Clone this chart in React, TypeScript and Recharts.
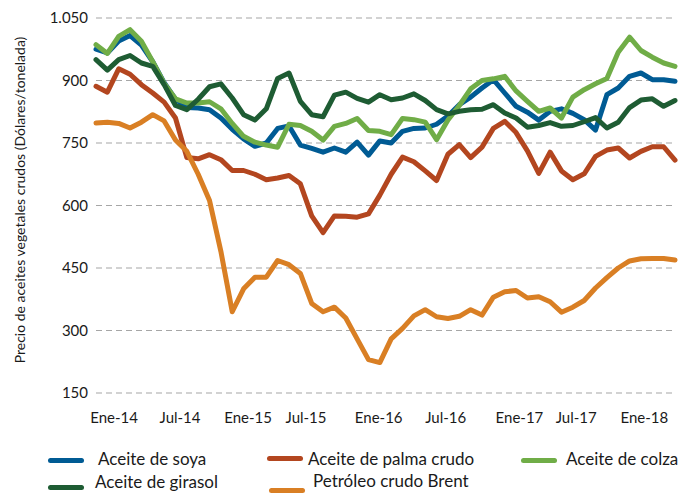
import { LineChart, Line, XAxis, YAxis, CartesianGrid } from 'recharts';

// monthly, Ene-14 .. Abr-18 (52 points), US$/tonelada
const soya = [
  975, 966, 995, 1008, 985, 945, 895, 855, 835, 834, 830, 810, 783, 760, 742, 750, 785, 791, 745, 737, 728, 738, 728, 752, 721, 755,
  750, 778, 785, 786, 795, 815, 842, 860, 882, 902, 870, 838, 824, 805, 826, 832, 821, 806, 781, 866, 882, 910, 918, 902, 902, 898,
];
const palma = [
  886, 872, 928, 915, 890, 870, 848, 810, 715, 712, 722, 710, 684, 684, 675, 662, 666, 672, 652, 575, 535, 575, 574, 572, 580, 625,
  675, 716, 705, 683, 660, 723, 746, 715, 740, 785, 802, 775, 731, 677, 728, 683, 662, 676, 718, 733, 738, 714, 730, 741, 741, 709,
];
const colza = [
  986, 965, 1006, 1022, 994, 945, 893, 856, 846, 846, 849, 832, 797, 766, 752, 745, 740, 795, 792, 778, 757, 790, 797, 809, 780, 778,
  770, 809, 806, 800, 758, 805, 840, 880, 900, 904, 910, 875, 850, 826, 834, 810, 860, 878, 892, 905, 968, 1004, 972, 956, 942, 934,
];
const girasol = [
  950, 925, 950, 960, 942, 934, 890, 840, 830, 855, 885, 892, 858, 818, 805, 832, 905, 918, 850, 818, 813, 865, 872, 857, 848, 866,
  854, 858, 868, 852, 830, 820, 826, 830, 831, 842, 822, 810, 788, 792, 799, 790, 792, 801, 811, 786, 800, 835, 853, 856, 838, 852,
];
const brent = [
  798, 800, 797, 786, 800, 818, 803, 757, 730, 675, 612, 490, 345, 400, 428, 428, 468, 458, 437, 365, 345, 356, 330, 280, 230, 223,
  280, 305, 335, 350, 333, 329, 334, 350, 337, 380, 393, 396, 378, 381, 369, 344, 356, 372, 402, 427, 450, 467, 472, 473, 473, 469,
];

const xTickLabels = ['Ene-14', 'Jul-14', 'Ene-15', 'Jul-15', 'Ene-16', 'Jul-16', 'Ene-17', 'Jul-17', 'Ene-18'];
const xTickAt = [1.6, 7.4, 13.4, 18.5, 24.9, 30.8, 37.3, 42.3, 48.3];
const yTicks = [150, 300, 450, 600, 750, 900, 1050];

const series = [
  { key: 'soya', name: 'Aceite de soya', color: '#005b94' },
  { key: 'palma', name: 'Aceite de palma crudo', color: '#b3461f' },
  { key: 'colza', name: 'Aceite de colza', color: '#70ad47' },
  { key: 'girasol', name: 'Aceite de girasol', color: '#1e5c33' },
  { key: 'brent', name: 'Petróleo crudo Brent', color: '#d97f24' },
];

const data = soya.map((v, i) => ({
  i,
  soya: v,
  palma: palma[i],
  colza: colza[i],
  girasol: girasol[i],
  brent: brent[i],
}));

const font = 'Lato, "Open Sans", sans-serif';

const fmtY = (v: number) => (v >= 1000 ? `${Math.floor(v / 1000)}.${String(v % 1000).padStart(3, '0')}` : String(v));

// legend layout: swatch left/top, text left/top
const legendPos = [
  { left: 48, top: 458, textLeft: 98, textTop: 449 },
  { left: 267, top: 456, textLeft: 308, textTop: 449 },
  { left: 521, top: 458, textLeft: 566, textTop: 449 },
  { left: 48, top: 485, textLeft: 95, textTop: 472 },
  { left: 269, top: 488, textLeft: 313, textTop: 471 },
];

export default function App() {
  return (
    <div style={{ position: 'absolute', left: 0, top: 0, width: 680, height: 493, background: '#fff', fontFamily: font }}>
      <LineChart width={680} height={493} data={data} margin={{ top: 18, right: 5, left: 0, bottom: 70 }}>
        <CartesianGrid vertical={false} stroke="#a6a6a6" strokeDasharray="6 4" strokeWidth={1.2} />
        <XAxis
          dataKey="i"
          type="number"
          domain={[0, 51]}
          ticks={xTickAt}
          interval={0}
          tickFormatter={(v) => xTickLabels[xTickAt.indexOf(v)] ?? ''}
          axisLine={false}
          tickLine={false}
          tickMargin={13}
          height={30}
          tick={{ fill: '#1a1a1a', fontSize: 15, fontFamily: font }}
        />
        <YAxis
          domain={[150, 1050]}
          ticks={yTicks}
          interval={0}
          tickFormatter={fmtY}
          axisLine={false}
          tickLine={false}
          width={96}
          tick={{ fill: '#1a1a1a', fontSize: 15, fontFamily: font }}
        />
        {series.map((s) => (
          <Line
            key={s.key}
            type="linear"
            dataKey={s.key}
            name={s.name}
            stroke={s.color}
            strokeWidth={5}
            strokeLinejoin="round"
            strokeLinecap="round"
            dot={false}
            isAnimationActive={false}
          />
        ))}
      </LineChart>

      <div
        style={{
          position: 'absolute',
          left: 20 - 200,
          top: 200 - 10,
          width: 400,
          height: 20,
          lineHeight: '20px',
          textAlign: 'center',
          fontSize: 14,
          color: '#1a1a1a',
          transform: 'rotate(-90deg)',
          whiteSpace: 'nowrap',
        }}
      >
        Precio de aceites vegetales crudos (Dólares/tonelada)
      </div>

      {series.map((s, k) => (
        <div key={s.key}>
          <div
            style={{
              position: 'absolute',
              left: legendPos[k].left,
              top: legendPos[k].top,
              width: 36,
              height: 5,
              borderRadius: 3,
              background: s.color,
            }}
          />
          <div
            style={{
              position: 'absolute',
              left: legendPos[k].textLeft,
              top: legendPos[k].textTop,
              fontSize: 17,
              lineHeight: '20px',
              color: '#1a1a1a',
              whiteSpace: 'nowrap',
            }}
          >
            {s.name}
          </div>
        </div>
      ))}
    </div>
  );
}
